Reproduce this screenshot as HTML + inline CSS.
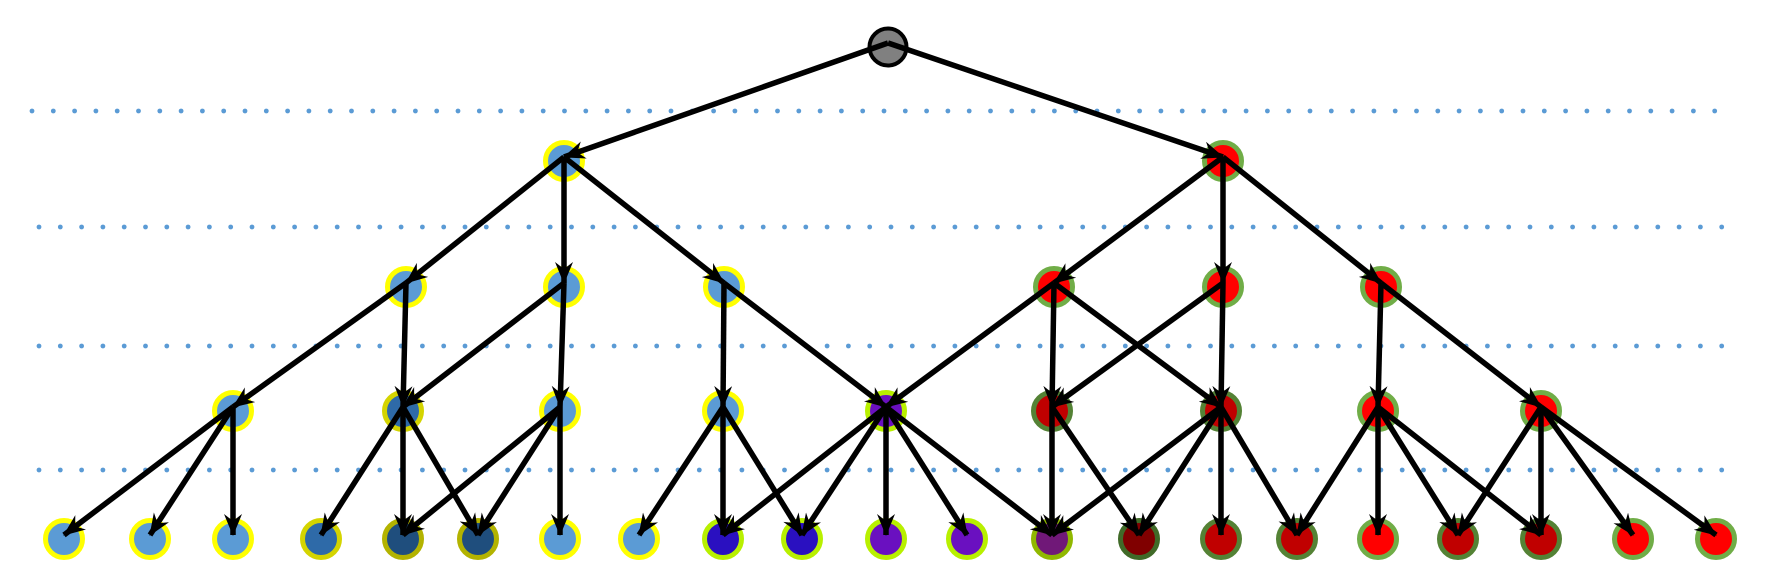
<!DOCTYPE html>
<html><head><meta charset="utf-8"><style>html,body{margin:0;padding:0;background:#fff}svg{display:block}</style></head>
<body>
<svg id="s" width="1768" height="582" viewBox="0 0 1768 582" xmlns="http://www.w3.org/2000/svg">
<defs>
<marker id="a" viewBox="0 0 22 18" refX="21" refY="9" markerWidth="22" markerHeight="18" markerUnits="userSpaceOnUse" orient="auto">
<path d="M0,0 L22,9 L0,18 L7,9 Z" fill="#000"/>
</marker>
<filter id="sh" x="-50%" y="-50%" width="200%" height="200%">
<feGaussianBlur in="SourceAlpha" stdDeviation="3"/>
<feOffset dy="4"/>
<feComponentTransfer><feFuncA type="linear" slope="0.25"/></feComponentTransfer>
<feFlood flood-color="#9dc3e6"/>
<feComposite operator="in" in2="SourceAlpha"/>
</filter>
</defs>
<g id="dots" fill="#5b9bd5"></g>
<g id="nodes"></g>
<g id="edges" stroke="#000" stroke-width="5.5" fill="none"></g>
</svg>
<script>
var NS="http://www.w3.org/2000/svg";
function el(t,a,p){var e=document.createElementNS(NS,t);for(var k in a)e.setAttribute(k,a[k]);document.getElementById(p).appendChild(e);return e;}
[[111,32,1725],[227,39,1734],[346,39,1734],[470,39,1734]].forEach(function(d){for(var x=d[1];x<=d[2];x+=21.3)el('circle',{cx:x,cy:d[0],r:2.4},'dots');});
var B=['#5b9bd5','#ffff00'],B2=['#2e6aa8','#d4d400'],B3=['#1f4e7d','#b3b300'],
P1=['#2a10c0','#b8f000'],P2=['#6a10c0','#b8f000'],P3=['#701878','#90b800'],
D1=['#800000','#406a28'],D2=['#c00000','#548235'],R=['#ff0000','#70ad47'];
var Y=[47,161,287,411,539];
var N={};
function node(id,x,y,c){N[id]=[x,y];
 el('circle',{cx:x,cy:y,r:19,fill:'#9dc3e6',opacity:0.35,filter:'url(#sh)'},'nodes');
 el('circle',{cx:x,cy:y,r:18.5,fill:c[0],stroke:c[1],'stroke-width':5},'nodes');}
N.r=[888,47];
el('circle',{cx:888,cy:47,r:18.5,fill:'#808080',stroke:'#000','stroke-width':4},'nodes');
node('a',564,Y[1],B);node('b',1223,Y[1],R);
var l2=[[406,B],[564,B],[724,B],[1054,R],[1223,R],[1381,R]];
l2.forEach(function(n,i){node('2_'+i,n[0],Y[2],n[1]);});
var l3=[[233,B],[403,B2],[560,B],[723,B],[886,P2],[1052,D2],[1221,D2],[1378,R],[1541,R]];
l3.forEach(function(n,i){node('3_'+i,n[0],Y[3],n[1]);});
var l4=[[64,B],[150,B],[233,B],[321,B2],[403,B3],[478,B3],[560,B],[639,B],[723,P1],[802,P1],[886,P2],[967,P2],[1052,P3],[1139,D1],[1221,D2],[1297,D2],[1378,R],[1458,D2],[1541,D2],[1633,R],[1716,R]];
l4.forEach(function(n,i){node('4_'+i,n[0],Y[4],n[1]);});
function e(s,t){var a=N[s],b=N[t];el('line',{x1:a[0],y1:a[1]-4,x2:b[0],y2:b[1]-4,'marker-end':'url(#a)'},'edges');}
e('r','a');e('r','b');
e('a','2_0');e('a','2_1');e('a','2_2');e('b','2_3');e('b','2_4');e('b','2_5');
[[0,[0,1]],[1,[1,2]],[2,[3,4]],[3,[4,5,6]],[4,[5,6]],[5,[7,8]]].forEach(function(p){p[1].forEach(function(t){e('2_'+p[0],'3_'+t);});});
function idx4(x){for(var i=0;i<l4.length;i++)if(l4[i][0]==x)return i;}
[[0,[64,150,233]],[1,[321,403,478]],[2,[403,478,560]],[3,[639,723,802]],[4,[723,802,886,967,1052]],[5,[1052,1139]],[6,[1052,1139,1221,1297]],[7,[1297,1378,1458,1541]],[8,[1458,1541,1633,1716]]].forEach(function(p){p[1].forEach(function(x){e('3_'+p[0],'4_'+idx4(x));});});
</script>
</body></html>
